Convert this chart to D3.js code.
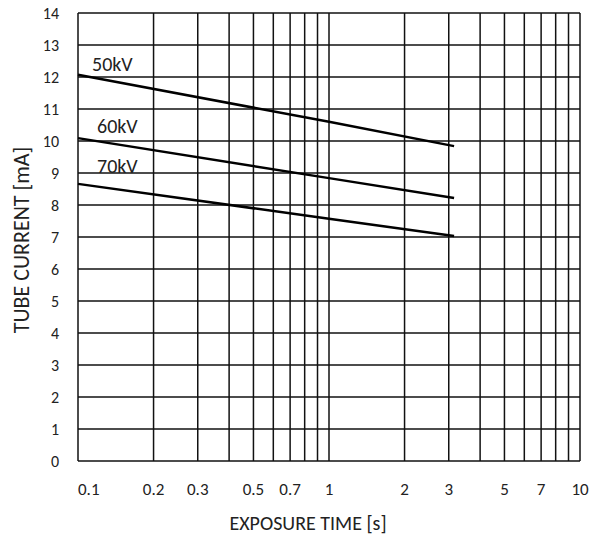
<html>
<script src="https://d3js.org/d3.v7.min.js"></script>
<style>
    body { margin: 0; background: #fff; }
    text { font-family: Carlito, Calibri, Lato, sans-serif; fill: #222; }
</style>
<body>
<svg width="589" height="536"></svg>
<script>
    var exposureTimes = [0.1, 1, 3.15];
    var current50kV = [12.07, 10.6, 9.84];
    var current60kV = [10.09, 8.84, 8.22];
    var current70kV = [8.66, 7.57, 7.03];
    var seriesNames = ["50kV", "60kV", "70kV"];
    var labelCurrent = [12.19, 10.25, 9.0];

    var yTicks = d3.range(0, 15);
    var xGrid = [0.1, 0.2, 0.3, 0.4, 0.5, 0.6, 0.7, 0.8, 0.9, 1, 2, 3, 4, 5, 6, 7, 8, 9, 10];
    var xTickLabels = [0.1, 0.2, 0.3, 0.5, 0.7, 1, 2, 3, 5, 7, 10];

    var svg = d3.select("svg");
    var plotLeft = 78, plotRight = 580, plotTop = 13, plotBottom = 461;

    var xs = d3.scaleLog().domain([0.1, 10]).range([plotLeft, plotRight]);
    var ys = d3.scaleLinear().domain([0, 14]).range([plotBottom, plotTop]);

    var grid = svg.append("g").attr("stroke", "#111").attr("stroke-width", 1.5);

    grid.selectAll("line.h").data(yTicks).enter().append("line")
        .attr("x1", plotLeft).attr("x2", plotRight)
        .attr("y1", function (d) { return ys(d); })
        .attr("y2", function (d) { return ys(d); });

    grid.selectAll("line.v").data(xGrid).enter().append("line")
        .attr("x1", function (d) { return xs(d); })
        .attr("x2", function (d) { return xs(d); })
        .attr("y1", plotTop).attr("y2", plotBottom);

    // y tick labels
    svg.append("g").selectAll("text").data(yTicks).enter().append("text")
        .attr("x", 59)
        .attr("y", function (d) { return ys(d); })
        .attr("dy", "0.36em")
        .attr("text-anchor", "end")
        .style("font-size", "16px")
        .text(function (d) { return d; });

    // x tick labels
    svg.append("g").selectAll("text").data(xTickLabels).enter().append("text")
        .attr("x", function (d) { return xs(d); })
        .attr("y", 495)
        .attr("text-anchor", function (d) { return d == 0.1 ? "start" : "middle"; })
        .style("font-size", "17px")
        .text(function (d) { return d; });

    // curves
    var series = [current50kV, current60kV, current70kV];
    var line = d3.line()
        .x(function (d, i) { return xs(exposureTimes[i]); })
        .y(function (d) { return ys(d); });

    svg.append("g").selectAll("path").data(series).enter().append("path")
        .attr("d", line)
        .attr("fill", "none")
        .attr("stroke", "#000")
        .attr("stroke-width", 2.5);

    svg.append("g").selectAll("text").data(seriesNames).enter().append("text")
        .attr("x", function (d, i) { return xs(0.1) + (i == 0 ? 14 : 19); })
        .attr("y", function (d, i) { return ys(labelCurrent[i]); })
        .style("font-size", "20px")
        .text(function (d) { return d; });

    // axis titles
    svg.append("text")
        .attr("x", 308).attr("y", 530)
        .attr("text-anchor", "middle")
        .style("font-size", "20px")
        .text("EXPOSURE TIME [s]");

    svg.append("text")
        .attr("transform", "translate(29,240) rotate(-90)")
        .attr("text-anchor", "middle")
        .style("font-size", "22px")
        .text("TUBE CURRENT [mA]");
</script>
</body>
</html>
